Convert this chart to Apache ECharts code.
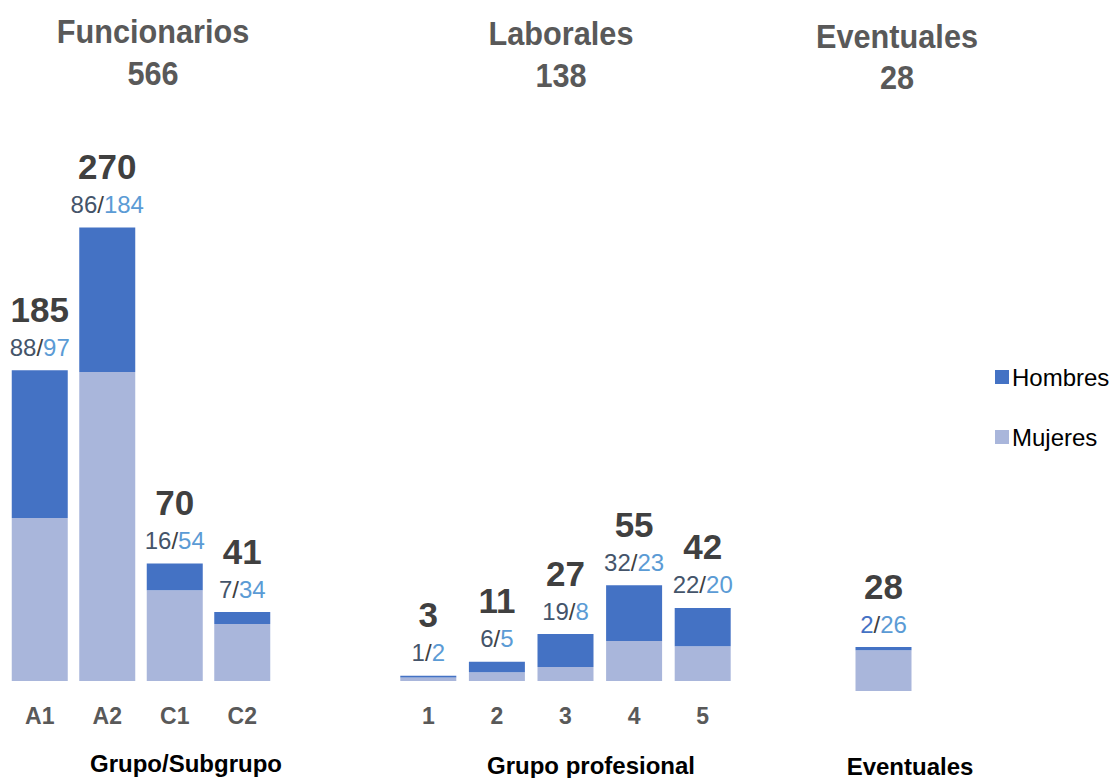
<!DOCTYPE html>
<html>
<head>
<meta charset="utf-8">
<script src="https://cdn.jsdelivr.net/npm/echarts@6/dist/echarts.min.js"></script>
<style>
  html, body { margin: 0; padding: 0; background: #ffffff; }
  #chart { width: 1112px; height: 778px; }
</style>
</head>
<body>
<div id="chart"></div>
<script>
// ---- data ----
const funcCats = ['A1', 'A2', 'C1', 'C2'];
const funcHombres = [88, 86, 16, 7];
const funcMujeres = [97, 184, 54, 34];

const labCats = ['1', '2', '3', '4', '5'];
const labHombres = [1, 6, 19, 32, 22];
const labMujeres = [2, 5, 8, 23, 20];

const evCats = ['Eventuales'];
const evHombres = [2];
const evMujeres = [26];

const panelTitles = ['Funcionarios', 'Laborales', 'Eventuales'];
const axisNames = ['Grupo/Subgrupo', 'Grupo profesional', 'Eventuales'];
const seriesNames = ['Hombres', 'Mujeres'];

// ---- styling ----
const FONT = '"Liberation Sans Narrow", "Arial Narrow", "Liberation Sans", Arial, sans-serif';
const C_H = '#4472C4';
const C_M = '#A9B6DB';

const panels = [
  { cats: funcCats, h: funcHombres, m: funcMujeres },
  { cats: labCats, h: labHombres, m: labMujeres },
  { cats: evCats, h: evHombres, m: evMujeres }
];
const sum = a => a.reduce((s, v) => s + v, 0);
const panelTotals = panels.map(p => sum(p.h) + sum(p.m));

const grids = [
  { left: 6, width: 270, top: 177, height: 504 },
  { left: 394, width: 343, top: 507, height: 174 },
  { left: 849, width: 69, top: 534, height: 157 }
];
const yMax = [300, 100, 100];

const xAxes = [], yAxes = [], series = [];
panels.forEach((p, i) => {
  xAxes.push({
    type: 'category', gridIndex: i, data: p.cats,
    axisLine: { show: false }, axisTick: { show: false },
    axisLabel: { show: i < 2, color: '#595959', fontFamily: FONT, fontWeight: 'bold', fontSize: 23, margin: 23 }
  });
  yAxes.push({
    type: 'value', gridIndex: i, min: 0, max: yMax[i], show: false,
    splitLine: { show: false }
  });
  series.push({
    name: 'Mujeres', type: 'bar', stack: 's' + i, xAxisIndex: i, yAxisIndex: i,
    data: p.m, barWidth: 56, itemStyle: { color: C_M }, emphasis: { disabled: true }
  });
  series.push({
    name: 'Hombres', type: 'bar', stack: 's' + i, xAxisIndex: i, yAxisIndex: i,
    data: p.h, barWidth: 56, itemStyle: { color: C_H }, emphasis: { disabled: true },
    label: {
      show: true, position: 'top', distance: 8, fontFamily: FONT,
      formatter: (params) => {
        const k = params.dataIndex;
        const t = p.h[k] + p.m[k];
        return '{t|' + t + '}\n{h|' + p.h[k] + '}{s|/}{m|' + p.m[k] + '}';
      },
      rich: {
        t: { fontFamily: FONT, fontSize: 35, fontWeight: 'bold', color: '#404040', lineHeight: 46 },
        h: { fontFamily: FONT, fontSize: 24, color: i === 2 ? '#4472C4' : '#44546A', lineHeight: 30 },
        s: { fontFamily: FONT, fontSize: 24, color: '#404040', lineHeight: 30 },
        m: { fontFamily: FONT, fontSize: 24, color: '#5B9BD5', lineHeight: 30 }
      }
    }
  });
});

const titlePos = [[153, 32, 74], [561, 34, 76], [897, 37, 78]];
const axisNamePos = [[186, 763], [591, 765], [910, 766]];
const graphics = [];
panelTitles.forEach((t, i) => {
  const [x, y1, y2] = titlePos[i];
  graphics.push({ type: 'text', x: x, y: y1, scaleX: 0.93, style: { text: t, fill: '#595959', font: 'bold 33px ' + FONT, textAlign: 'center', textVerticalAlign: 'middle' } });
  graphics.push({ type: 'text', x: x, y: y2, scaleX: 0.93, style: { text: String(panelTotals[i]), fill: '#595959', font: 'bold 33px ' + FONT, textAlign: 'center', textVerticalAlign: 'middle' } });
});
axisNames.forEach((t, i) => {
  const [x, y] = axisNamePos[i];
  graphics.push({ type: 'text', x: x, y: y, style: { text: t, fill: '#000000', font: 'bold 24px ' + FONT, textAlign: 'center', textVerticalAlign: 'middle' } });
});

const chart = echarts.init(document.getElementById('chart'), null, { renderer: 'svg' });
chart.setOption({
  animation: false,
  backgroundColor: '#ffffff',
  grid: grids,
  xAxis: xAxes,
  yAxis: yAxes,
  series: series,
  legend: {
    data: seriesNames, orient: 'vertical', left: 990, top: 360,
    itemWidth: 14, itemHeight: 14, itemGap: 36, icon: 'rect',
    textStyle: { fontFamily: FONT, fontSize: 24, color: '#000000', padding: [0, 0, 0, -2] }
  },
  graphic: graphics
});
</script>
</body>
</html>
